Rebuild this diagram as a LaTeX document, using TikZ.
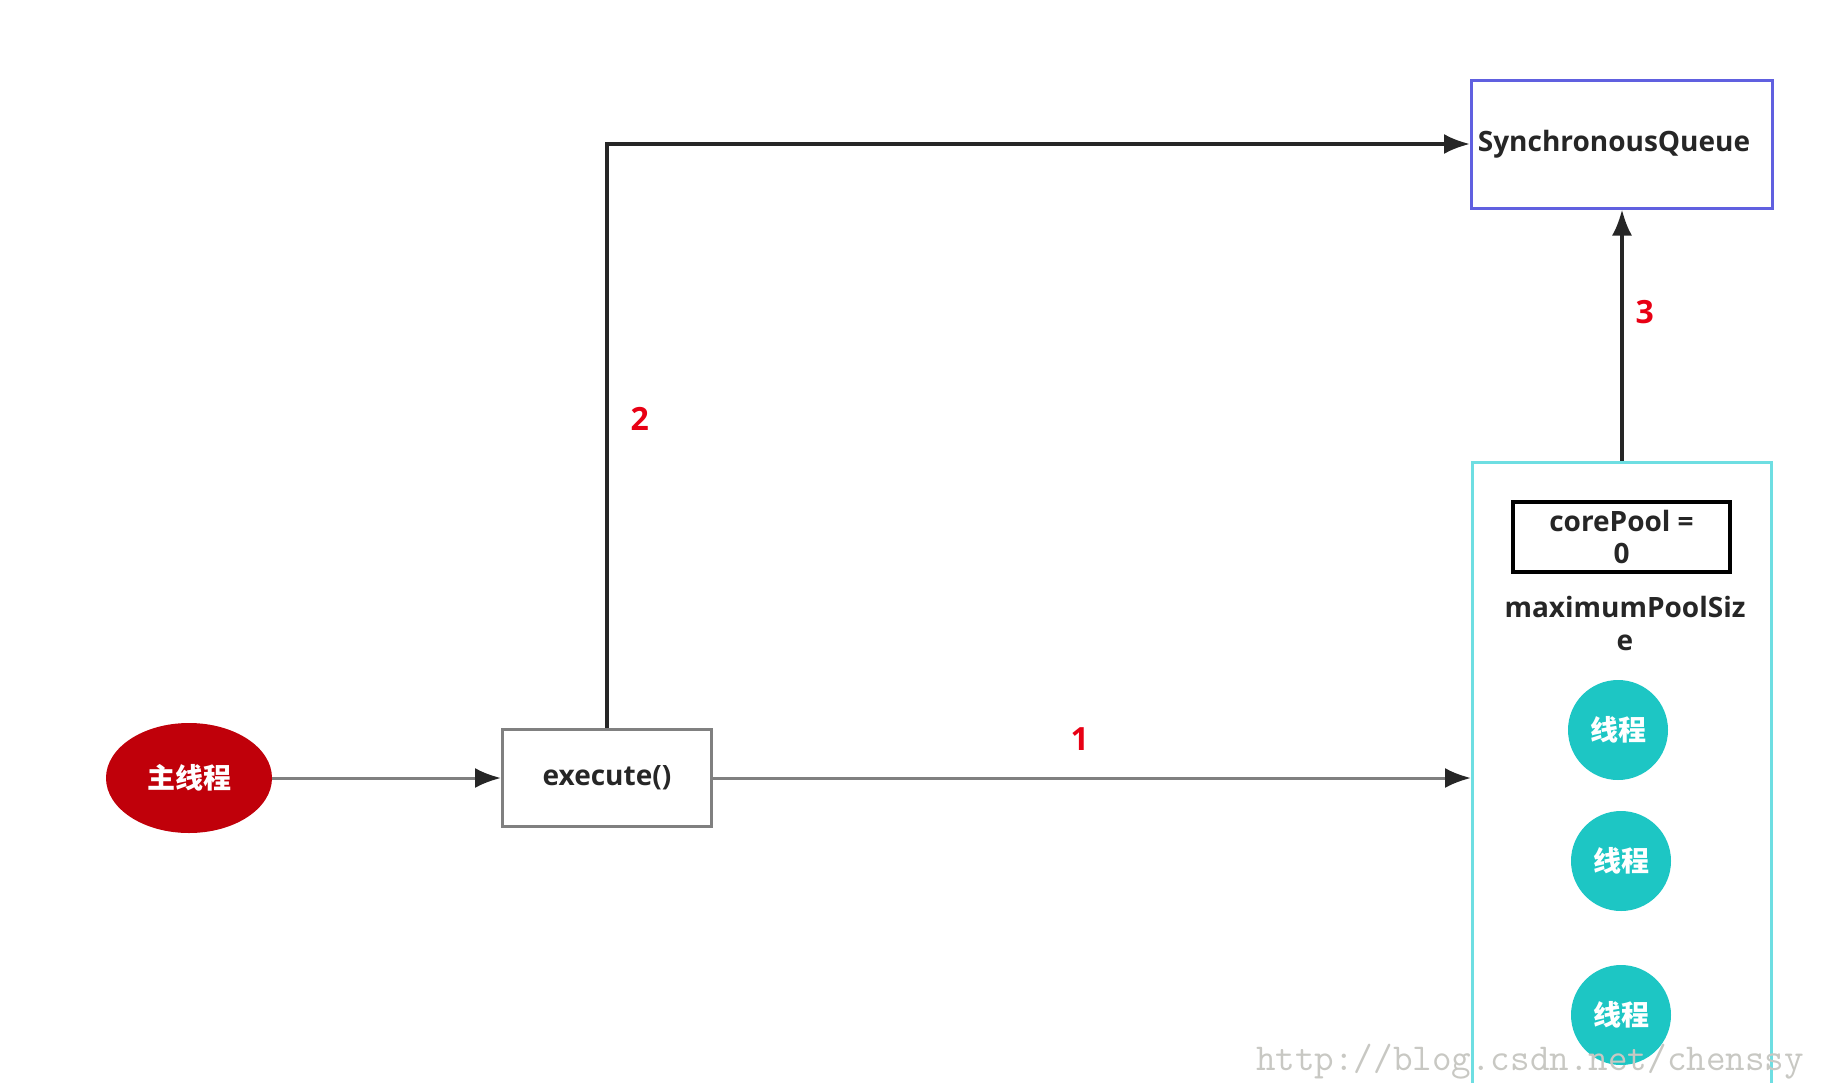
\documentclass[tikz,border=0pt]{standalone}
\usepackage{fontspec}
\setmainfont{Open Sans}
\newfontfamily\cjk{Noto Sans CJK SC}
\usetikzlibrary{arrows.meta,positioning,shapes.geometric}
\definecolor{mainred}{RGB}{192,0,10}
\definecolor{threadcyan}{RGB}{29,198,196}
\definecolor{poolcyan}{RGB}{110,222,226}
\definecolor{queueblue}{RGB}{96,96,224}
\definecolor{numred}{RGB}{232,0,20}
\definecolor{linegray}{RGB}{128,128,128}
\definecolor{darkline}{RGB}{38,38,38}
\definecolor{marktext}{RGB}{200,200,195}

\begin{document}
\begin{tikzpicture}[x=0.5pt,y=-0.5pt,>={Latex[length=13pt,width=10pt]}]
\tikzstyle{mainthread}=[ellipse,fill=mainred,text=white,
minimum width=83pt,minimum height=55pt,inner sep=0pt,
font=\cjk\bfseries\fontsize{14}{17}\selectfont]
\tikzstyle{thread}=[circle,fill=threadcyan,text=white,
minimum size=50pt,inner sep=0pt,node distance=65.5pt,
font=\cjk\bfseries\fontsize{14}{17}\selectfont]
\tikzstyle{callbox}=[rectangle,draw=linegray,line width=1.5pt,
minimum width=104.5pt,minimum height=48.5pt,text=darkline,
font=\bfseries\fontsize{14}{17}\selectfont]
\tikzstyle{queuebox}=[rectangle,draw=queueblue,line width=1.5pt,
minimum width=150.5pt,minimum height=64pt,inner sep=0pt,text=darkline,
font=\bfseries\fontsize{14}{17}\selectfont]
\tikzstyle{poolbox}=[rectangle,draw=poolcyan,line width=1.5pt,
minimum width=149.5pt,minimum height=329pt]
\tikzstyle{corebox}=[rectangle,draw=black,line width=1.7pt,align=center,
minimum width=108.5pt,minimum height=35pt,inner sep=0pt,text=darkline,
font=\bfseries\fontsize{14}{16}\selectfont]
\tikzstyle{plain}=[align=center,inner sep=0pt,text=darkline,
font=\bfseries\fontsize{14}{16.5}\selectfont]
\tikzstyle{num}=[inner sep=0pt,text=numred,font=\bfseries\fontsize{16}{18}\selectfont]
\tikzstyle{grayline}=[draw=linegray,line width=1.5pt,
>={Latex[length=13pt,width=10pt,color=darkline]}]
\tikzstyle{blackline}=[draw=darkline,line width=1.7pt]

\path[use as bounding box,clip] (0,0) rectangle (1842,1082);

\node[mainthread] at (189,778) (main) {主线程};
\node[callbox,right of =main,node distance=209pt](exec) {execute()};
\node[poolbox] at (1622,791) (pool) {};
\node[queuebox] at (1622,144) (sq) {\hspace*{-8pt}SynchronousQueue};
\node[corebox] at (1621.5,537) (core) {corePool =\\0};
\node[plain] at (1625,623) (maxsize) {maximumPoolSiz\\e};
\node[thread] at (1618,730) (t1) {线程};
\node[thread,below of =t1,xshift=1.5pt](t2) {线程};
\node[thread,below of =t2,node distance=77pt](t3) {线程};
\node[text=marktext,font=\ttfamily\fontsize{19}{21}\selectfont,inner sep=0pt]
  at (1530,1062) (mark) {http://blog.csdn.net/chenssy};

\draw[grayline,->] (main) -- (exec) ;
\draw[grayline,->] (exec) -- (exec -| pool.west)
  node[num,pos=0.484,above=13pt] (l1) {1} ;
\draw[blackline,->] (exec) |- (sq)
  node[num,pos=0.265,right=11pt] (l2) {2} ;
\draw[blackline,->] (pool) -- (sq)
  node[num,pos=0.59,right=6pt] (l3) {3} ;

\end{tikzpicture}
\end{document}
